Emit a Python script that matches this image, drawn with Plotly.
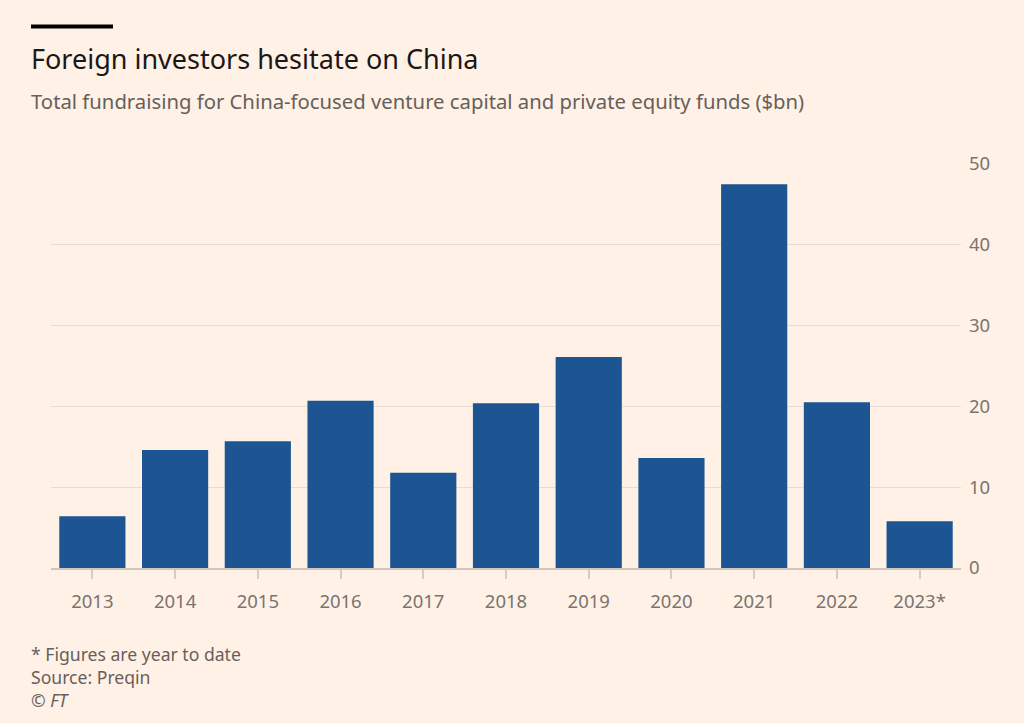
import plotly.graph_objects as go

years = ["2013", "2014", "2015", "2016", "2017", "2018", "2019", "2020", "2021", "2022", "2023*"]
values = [6.4, 14.6, 15.7, 20.7, 11.8, 20.4, 26.1, 13.6, 47.5, 20.5, 5.8]
y_ticks = [0, 10, 20, 30, 40, 50]

BG = "#FFF1E5"
BAR = "#1D5592"
GREY_TXT = "#66605C"
TICK_TXT = "#7A7470"
GRID = "#E9DDD2"
FONT = "Noto Sans"

fig = go.Figure()
fig.add_trace(go.Bar(x=years, y=values, marker=dict(color=BAR, line=dict(width=0)), width=0.8))

fig.update_layout(
    width=1024, height=723,
    paper_bgcolor=BG, plot_bgcolor=BG,
    margin=dict(l=51, r=63, t=164, b=155),
    showlegend=False,
    font=dict(family=FONT, color=TICK_TXT, size=18),
    bargap=0.2,
)
fig.update_xaxes(
    showgrid=False, showline=True, linecolor="#CEC6BF", linewidth=1.5,
    ticks="outside", ticklen=9, tickcolor="#D6CCC3", tickwidth=1.5,
    ticklabelstandoff=7,
    tickfont=dict(size=18.5, color=TICK_TXT, family=FONT),
    fixedrange=True,
)
fig.update_yaxes(
    side="right", range=[0, 50], tickvals=y_ticks,
    showgrid=True, gridcolor=GRID, gridwidth=1, zeroline=False,
    showline=False, ticks="", ticklabelstandoff=7,
    tickfont=dict(size=18.5, color=TICK_TXT, family=FONT),
    fixedrange=True,
)

X0 = -20 / 910
XT = -22 / 910

def py(pix):
    return (568 - pix) / 404

# top black bar
fig.add_shape(type="rect", xref="paper", yref="paper",
              x0=X0, x1=62 / 910, y0=py(28.5), y1=py(24.5),
              fillcolor="#000000", line=dict(width=0))

fig.add_annotation(text="Foreign investors hesitate on China", xref="paper", yref="paper",
                   x=XT, y=py(58), xanchor="left", yanchor="middle", showarrow=False,
                   font=dict(size=27, color="#1A1817", family=FONT))
fig.add_annotation(text="Total fundraising for China-focused venture capital and private equity funds ($bn)",
                   xref="paper", yref="paper",
                   x=XT, y=py(101), xanchor="left", yanchor="middle", showarrow=False,
                   font=dict(size=20.3, color=GREY_TXT, family=FONT))
for txt, yy in [("* Figures are year to date", 654), ("Source: Preqin", 677), ("© <i>FT</i>", 700)]:
    fig.add_annotation(text=txt, xref="paper", yref="paper",
                       x=XT, y=py(yy), xanchor="left", yanchor="middle", showarrow=False,
                       font=dict(size=17.6, color=GREY_TXT, family=FONT))

fig.write_html("out.html", config={"displayModeBar": False},
               post_script="document.body.style.margin='0';document.body.style.padding='0';")
